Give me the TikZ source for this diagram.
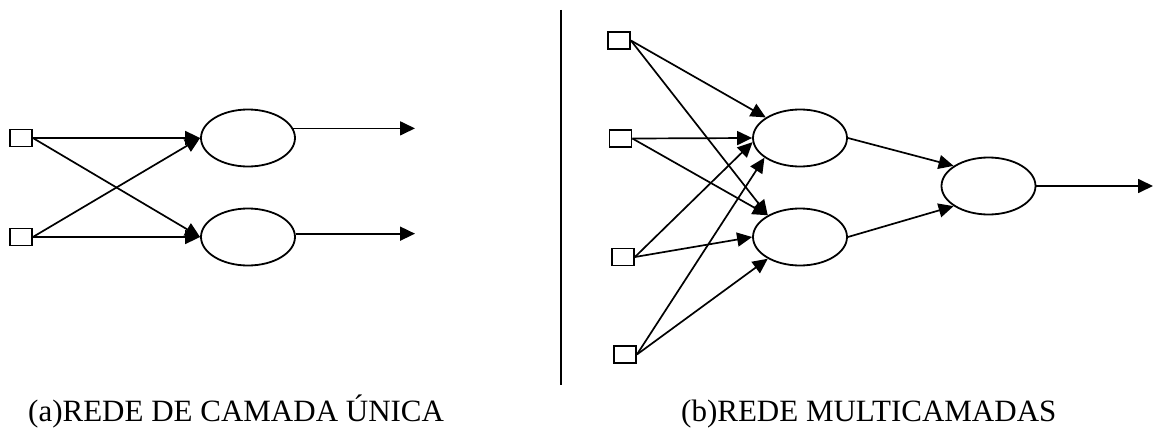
\documentclass[tikz,border=0pt]{standalone}
\usepackage{fontspec}
\setmainfont{Liberation Serif}
\usetikzlibrary{arrows.meta,shapes.geometric}

\tikzset{
  inp/.style={draw, line width=1.8pt, rectangle, minimum width=22pt, minimum height=17pt, inner sep=0pt},
  neu/.style={draw, line width=1.8pt, ellipse, minimum width=94pt, minimum height=57pt, inner sep=0pt},
  conn/.style={line width=1.7pt, -{Triangle[length=15pt,width=14pt]}},
  caption/.style={anchor=base west, inner sep=0pt, font=\fontsize{31}{36}\selectfont}
}

\begin{document}
\begin{tikzpicture}[x=1pt, y=-1pt]
  \useasboundingbox (0,0) rectangle (1154,428);

  % (a) single-layer network
  \node[inp] (x1) at (21,138) {};
  \node[inp] (x2) at (21,237) {};
  \node[neu] (L1) at (248,138) {};
  \node[neu] (L2) at (248,237) {};
  \coordinate (outA) at (415,0);

  \draw[conn] (x1.east) -- (L1.west);
  \draw[conn] (x1.east) -- (L2.west);
  \draw[conn] (x2.east) -- (L1.west);
  \draw[conn] (x2.east) -- (L2.west);
  \draw[conn] (L1.12) -- (L1.12 -| outA);
  \draw[conn] (L2.4) -- (L2.4 -| outA);

  % separator
  \coordinate (sepTop) at (561,10);
  \coordinate (sepBot) at (561,385);
  \draw[line width=2pt] (sepTop) -- (sepBot);

  % (b) multilayer network
  \node[inp] (a) at (619,40.5) {};
  \node[inp] (b) at (620.5,138.5) {};
  \node[inp] (c) at (623,257) {};
  \node[inp] (d) at (625,354.5) {};
  \node[neu] (H1) at (800,138) {};
  \node[neu] (H2) at (800,237) {};
  \node[neu] (O) at (988.5,186) {};
  \coordinate (outB) at (1153,186);

  \draw[conn] (a.east) -- (H1.149);
  \draw[conn] (a.east) -- (H2.146);
  \draw[conn] (b.east) -- (H1.west);
  \draw[conn] (b.east) -- (H2.146);
  \draw[conn] (c.east) -- (H1.185);
  \draw[conn] (c.east) -- (H2.west);
  \draw[conn] (d.east) -- (H1.209);
  \draw[conn] (d.east) -- (H2.214);
  \draw[conn] (H1.east) -- (O.150);
  \draw[conn] (H2.east) -- (O.210);
  \draw[conn] (O.east) -- (outB);

  % captions
  \node[caption] (capA) at (28,421) {(a)REDE DE CAMADA ÚNICA};
  \node[caption] (capB) at (681,421) {(b)REDE MULTICAMADAS};
\end{tikzpicture}
\end{document}
